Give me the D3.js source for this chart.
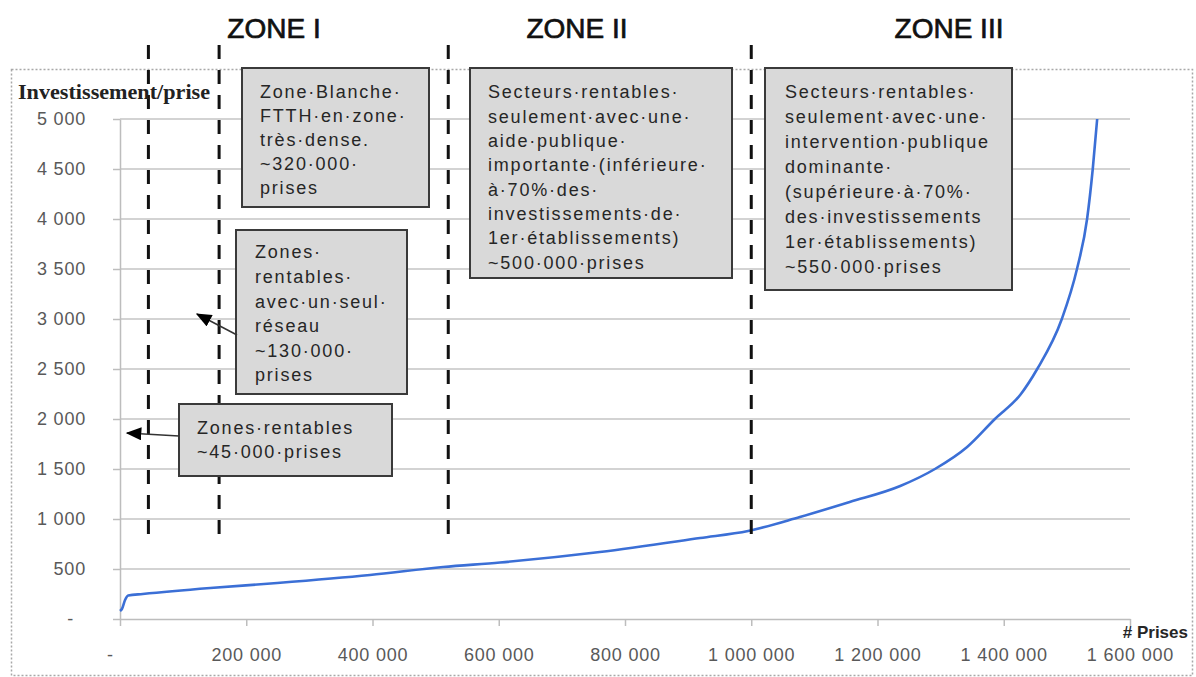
<!DOCTYPE html>
<html>
<head>
<meta charset="utf-8">
<script src="https://cdn.jsdelivr.net/npm/d3@7"></script>
<style>
  body { margin: 0; background: #fff; }
  svg { display: block; font-family: 'Liberation Sans', Arial, sans-serif; }
  .grid line { stroke: #c4c4c4; stroke-width: 1.5; }
  .axis path, .axis line { stroke: #bdbdbd; stroke-width: 1.5; }
  .axis text { fill: #595959; font-size: 18px; letter-spacing: 0.8px; font-family: 'Liberation Sans', Arial, sans-serif; }
  .box rect { fill: #d9d9d9; stroke: #3a3a3a; stroke-width: 2; }
  .box text { fill: #262626; font-size: 18px; letter-spacing: 1.8px; }
  .zone { font-size: 28px; fill: #111; stroke: #111; stroke-width: 0.7; }
  .curve { fill: none; stroke: #3b6fd6; stroke-width: 2.6; }
  .split { stroke: #111; stroke-width: 3; stroke-dasharray: 14 11; }
</style>
</head>
<body>
<svg id="chart" width="1196" height="677"></svg>
<script>
// curve: number of lines (prises) vs cost per line
const prises = [0, 3000, 8000, 13000, 36000, 143000, 249000, 396000, 512000, 602000,
                760000, 919000, 995000, 1077000, 1156000, 1236000, 1291000, 1342000,
                1386000, 1426000, 1453000, 1492000, 1516000, 1532000, 1541000, 1548000];
const invest = [80, 100, 190, 235, 250, 310, 360, 440, 520, 565,
                670, 810, 880, 1020, 1170, 1330, 1500, 1720,
                2000, 2240, 2500, 3000, 3500, 4000, 4500, 5000];

const xTicks = [0, 200000, 400000, 600000, 800000, 1000000, 1200000, 1400000, 1600000];
const yTicks = [0, 500, 1000, 1500, 2000, 2500, 3000, 3500, 4000, 4500, 5000];

// zone boundaries, in prises
const splits = [45000, 157000, 520000, 1000000];
const zoneNames = ['ZONE I', 'ZONE II', 'ZONE III'];

const boxTexts = [
  ['Zone·Blanche·', 'FTTH·en·zone·', 'très·dense.', '~320·000·', 'prises'],
  ['Secteurs·rentables·', 'seulement·avec·une·', 'aide·publique·', 'importante·(inférieure·',
   'à·70%·des·', 'investissements·de·', '1er·établissements)', '~500·000·prises'],
  ['Secteurs·rentables·', 'seulement·avec·une·', 'intervention·publique', 'dominante·',
   '(supérieure·à·70%·', 'des·investissements', '1er·établissements)', '~550·000·prises'],
  ['Zones·', 'rentables·', 'avec·un·seul·', 'réseau', '~130·000·', 'prises'],
  ['Zones·rentables', '~45·000·prises']
];

// layout only (pixels)
const zonePos = [274, 577, 949];
const boxLayout = [
  { x: 242, y: 68, w: 187, h: 139, tx: 260, ty: 92, lh: 24 },
  { x: 470, y: 68, w: 262, h: 210, tx: 488, ty: 92, lh: 24.3 },
  { x: 765, y: 68, w: 247, h: 222, tx: 785, ty: 92, lh: 25 },
  { x: 236, y: 230, w: 171, h: 164, tx: 255, ty: 252, lh: 24.6 },
  { x: 179, y: 404, w: 213, h: 72, tx: 197, ty: 428, lh: 24 }
];
const arrows = [
  { x1: 237, y1: 335, x2: 197, y2: 314 },
  { x1: 179, y1: 436, x2: 127, y2: 433 }
];

const width = 1196;
const height = 677;
const plotLeft = 120;
const plotRight = 1130;
const plotTop = 119;
const plotBottom = 619;

const svg = d3.select('#chart');

const x = d3.scaleLinear()
            .domain([0, 1600000])
            .range([plotLeft, plotRight]);

const y = d3.scaleLinear()
            .domain([0, 5000])
            .range([plotBottom, plotTop]);

const fr = d3.formatLocale({ decimal: ',', thousands: '\u00a0', grouping: [3], currency: ['', '€'] });
const num = fr.format(',d');
const tickFmt = d => d === 0 ? '-' : num(d);

// outer chart frame
svg.append('rect')
   .attr('x', 11.5)
   .attr('y', 69.5)
   .attr('width', 1181)
   .attr('height', 606)
   .attr('fill', 'none')
   .attr('stroke', '#a8a8a8')
   .attr('stroke-width', 1.5)
   .attr('stroke-dasharray', '2 2');

svg.append('defs')
   .append('marker')
   .attr('id', 'head')
   .attr('viewBox', '0 0 12 10')
   .attr('refX', 11)
   .attr('refY', 5)
   .attr('markerWidth', 16)
   .attr('markerHeight', 13)
   .attr('markerUnits', 'userSpaceOnUse')
   .attr('orient', 'auto')
   .append('path')
   .attr('d', 'M0,0 L12,5 L0,10 z')
   .attr('fill', '#000');

drawGrid();
drawAxes();
drawCurve();
drawSplits();
drawBoxes();
drawTitles();

function drawGrid() {
  svg.append('g')
     .attr('class', 'grid')
     .selectAll('line')
     .data(yTicks.filter(d => d > 0))
     .enter()
     .append('line')
     .attr('x1', plotLeft)
     .attr('x2', plotRight)
     .attr('y1', d => y(d))
     .attr('y2', d => y(d));
}

function drawAxes() {
  const yAxis = d3.axisLeft(y)
                  .tickValues(yTicks)
                  .tickFormat(tickFmt)
                  .tickSize(7)
                  .tickSizeOuter(0)
                  .tickPadding(27);

  const xAxis = d3.axisBottom(x)
                  .tickValues(xTicks)
                  .tickFormat(tickFmt)
                  .tickSize(7)
                  .tickSizeOuter(0)
                  .tickPadding(22);

  const gy = svg.append('g')
                .attr('class', 'axis')
                .attr('transform', 'translate(' + plotLeft + ',0)')
                .call(yAxis);
  gy.selectAll('.tick').filter(d => d === 0).select('text').attr('dx', -12);

  const gx = svg.append('g')
                .attr('class', 'axis')
                .attr('transform', 'translate(0,' + plotBottom + ')')
                .call(xAxis);
  gx.selectAll('.tick').filter(d => d === 0).select('text').attr('dx', -10);

  // let the css decide the font
  svg.selectAll('.axis').attr('font-family', null).attr('font-size', null);
}

function drawCurve() {
  const line = d3.line()
                 .x(d => x(d[0]))
                 .y(d => y(d[1]))
                 .curve(d3.curveMonotoneX);

  svg.append('path')
     .datum(d3.zip(prises, invest))
     .attr('class', 'curve')
     .attr('d', line);
}

function drawSplits() {
  svg.append('g')
     .selectAll('line')
     .data(splits)
     .enter()
     .append('line')
     .attr('class', 'split')
     .attr('x1', d => x(d))
     .attr('x2', d => x(d))
     .attr('y1', 45)
     .attr('y2', 540);

  svg.append('g')
     .selectAll('text')
     .data(zoneNames)
     .enter()
     .append('text')
     .attr('class', 'zone')
     .attr('x', (d, i) => zonePos[i])
     .attr('y', 38)
     .attr('text-anchor', 'middle')
     .text(d => d);
}

function drawBoxes() {
  const box = svg.append('g')
                 .selectAll('.box')
                 .data(boxTexts)
                 .enter()
                 .append('g')
                 .attr('class', 'box');

  box.append('rect')
     .attr('x', (d, i) => boxLayout[i].x)
     .attr('y', (d, i) => boxLayout[i].y)
     .attr('width', (d, i) => boxLayout[i].w)
     .attr('height', (d, i) => boxLayout[i].h);

  box.each(function(lines, i) {
    const b = boxLayout[i];
    d3.select(this)
      .selectAll('text')
      .data(lines)
      .enter()
      .append('text')
      .attr('x', b.tx)
      .attr('y', (d, j) => b.ty + j * b.lh)
      .attr('dy', '0.36em')
      .text(d => d);
  });

  // callout arrows
  svg.append('g')
     .selectAll('line')
     .data(arrows)
     .enter()
     .append('line')
     .attr('x1', d => d.x1)
     .attr('y1', d => d.y1)
     .attr('x2', d => d.x2)
     .attr('y2', d => d.y2)
     .attr('stroke', '#333')
     .attr('stroke-width', 1.5)
     .attr('marker-end', 'url(#head)');
}

function drawTitles() {
  svg.append('text')
     .attr('x', 18)
     .attr('y', 99)
     .attr('font-family', "'Liberation Serif', serif")
     .attr('font-weight', 'bold')
     .attr('font-size', 21)
     .attr('textLength', 192)
     .attr('lengthAdjust', 'spacingAndGlyphs')
     .attr('fill', '#222')
     .text('Investissement/prise');

  svg.append('text')
     .attr('x', 1188)
     .attr('y', 638)
     .attr('text-anchor', 'end')
     .attr('font-weight', 'bold')
     .attr('font-size', 17)
     .attr('fill', '#262626')
     .text('# Prises');
}
</script>
</body>
</html>
